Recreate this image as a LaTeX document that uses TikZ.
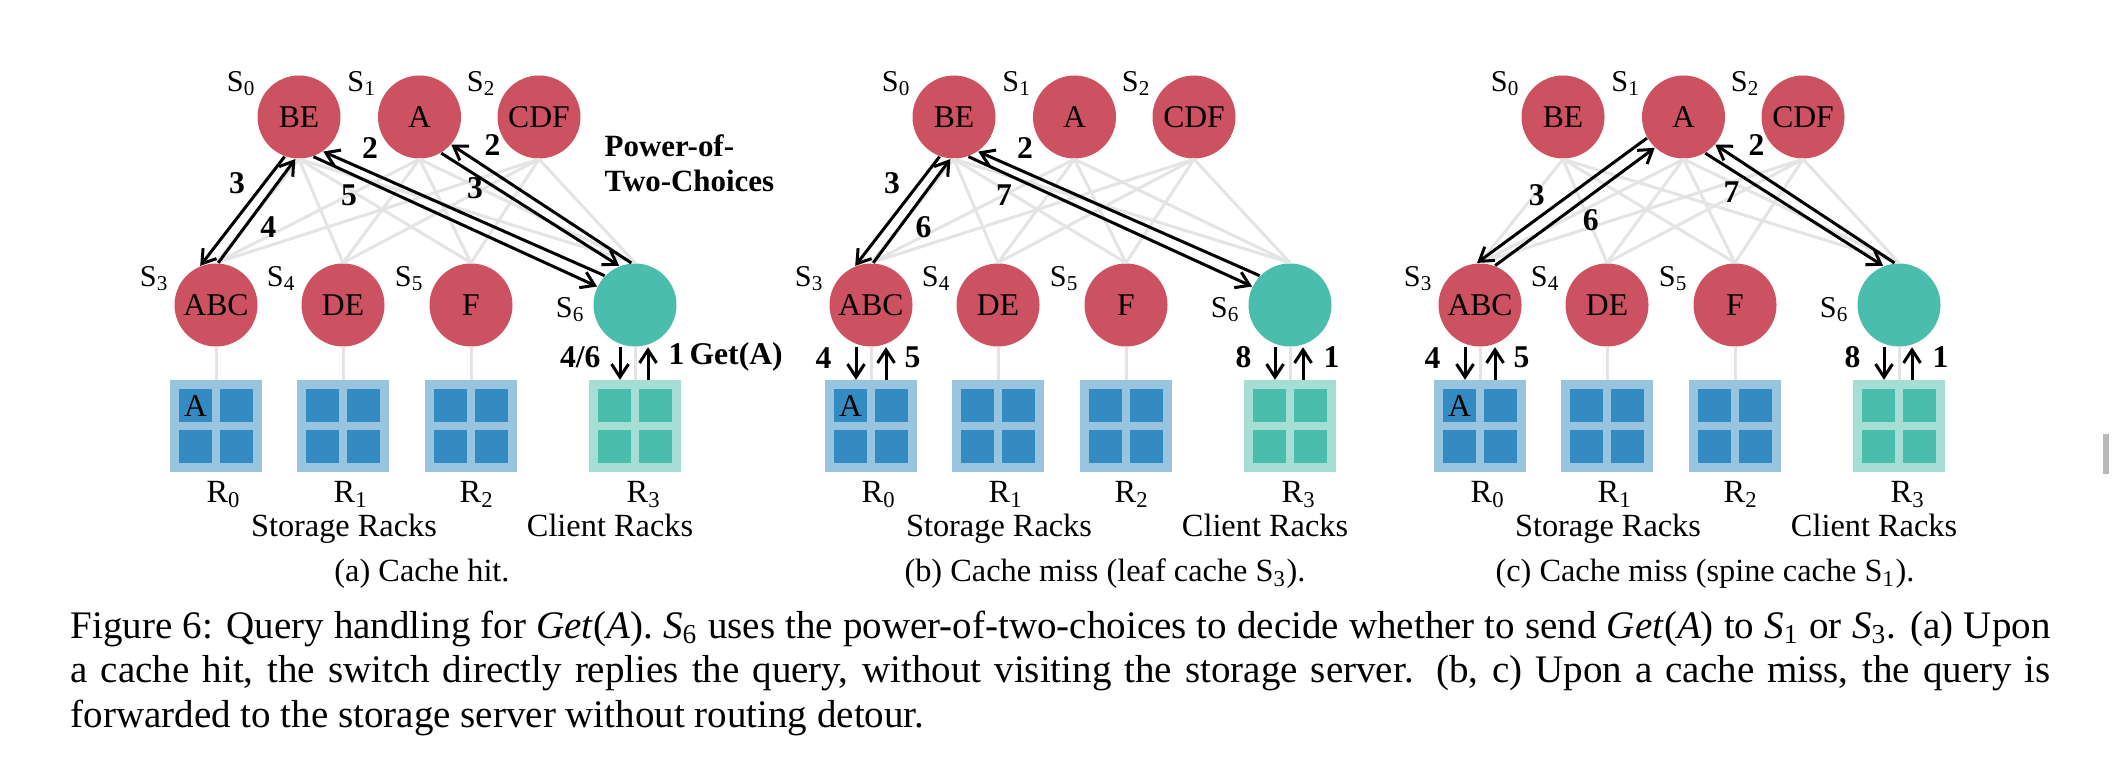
\documentclass[tikz,border=0pt]{standalone}
\usepackage{fontspec}
\setmainfont{Liberation Serif}
\usetikzlibrary{arrows.meta,positioning}

\definecolor{swred}{RGB}{205,82,97}
\definecolor{cteal}{RGB}{75,189,172}
\definecolor{rackblue}{RGB}{152,196,224}
\definecolor{cellblue}{RGB}{52,139,193}
\definecolor{rackteal}{RGB}{166,222,213}
\definecolor{meshgray}{RGB}{228,228,228}

\newcommand{\fsnode}{\fontsize{9}{10.5}\selectfont}
\newcommand{\fstag}{\fontsize{8.6}{10}\selectfont}
\newcommand{\fssub}{\fontsize{9.2}{11}\selectfont}
\newcommand{\fscap}{\fontsize{11.1}{12.8}\selectfont\hyphenpenalty10000\relax}

\begin{document}
\begin{tikzpicture}[
        x=0.1mm, y=-0.1mm,
        sw/.style={circle, fill=swred, minimum size=8.3mm, inner sep=0pt, font=\fsnode},
        client/.style={sw, fill=cteal},
        tag/.style={anchor=base east, inner sep=0pt, font=\fstag},
        toptag/.style={label={[tag, yshift=2.5mm]west:#1}},
        bottag/.style={label={[tag, xshift=-0.4mm, yshift=1.8mm]west:#1}},
        sidetag/.style={label={[tag, xshift=-0.7mm, yshift=-1.3mm]west:#1}},
        rack/.style={rectangle, fill=rackblue, minimum width=9.2mm, minimum height=9.2mm, inner sep=0pt},
        crack/.style={rack, fill=rackteal},
        mesh/.style={draw=meshgray, line width=0.3mm},
        flow/.style={-{Straight Barb[length=1.3mm, width=1.7mm]}, line width=0.3mm},
        num/.style={inner sep=0pt, font=\bfseries\fsnode},
        txt/.style={inner sep=0pt, anchor=base, font=\fssub}
    ]
    \path[use as bounding box, fill=white] (0,0) rectangle (2112,768);

    \foreach \p/\dx in {a/0, b/655, c/1264}{
    \begin{scope}[shift={(\dx,0)}]
        \node[sw, toptag=S\textsubscript{0}] (\p-s0) at (299,117) {BE};
        \node[sw, toptag=S\textsubscript{1}] (\p-s1) at (419.5,117) {A};
        \node[sw, toptag=S\textsubscript{2}] (\p-s2) at (539,117) {CDF};
        \node[sw, bottag=S\textsubscript{3}] (\p-s3) at (216,305) {ABC};
        \node[sw, bottag=S\textsubscript{4}] (\p-s4) at (343,305) {DE};
        \node[sw, bottag=S\textsubscript{5}] (\p-s5) at (471,305) {F};
        \node[client, sidetag=S\textsubscript{6}] (\p-s6) at (635,305) {};

        \node[rack] (\p-r0) at (216,426.5) {};
        \node[rack] (\p-r1) at (343,426.5) {};
        \node[rack] (\p-r2) at (471,426.5) {};
        \node[crack] (\p-r3) at (635,426.5) {};
        \foreach \x/\c in {216/cellblue, 343/cellblue, 471/cellblue, 635/cteal}
            \foreach \u in {-37,4}
                \foreach \v in {-37,4}
                    \fill[\c] (\x+\u,426.5+\v) rectangle ++(33,33);
        \node[inner sep=0pt, font=\fsnode] (\p-ka) at (195.5,406) {A};

        \foreach \t in {0,1,2}
            \foreach \b in {3,4,5,6}
                \draw[mesh] (\p-s\t.south) -- (\p-s\b.north);
        \draw[mesh] (\p-s3) -- (\p-r0);
        \draw[mesh] (\p-s4) -- (\p-r1);
        \draw[mesh] (\p-s5) -- (\p-r2);
        \draw[mesh] (\p-s6) -- (\p-r3);

        \node[txt] (\p-l0) at (224,503) {R\textsubscript{0}};
        \node[txt] (\p-l1) at (351,503) {R\textsubscript{1}};
        \node[txt] (\p-l2) at (477,503) {R\textsubscript{2}};
        \node[txt] (\p-l3) at (644,503) {R\textsubscript{3}};
        \node[txt] (\p-storage) at (344,537) {Storage Racks};
        \node[txt] (\p-client) at (610,537) {Client Racks};
    \end{scope}
    }

    % (a) cache hit
    \node[num, align=left, anchor=north west, font=\bfseries\fontsize{8.8}{10}\selectfont] (a-p2c) at (604,134) {Power-of-\\Two-Choices};
    \draw[flow] (a-s6.136) -- node[num, pos=0.865, shift={(8.9,-20.2)}] {2} (a-s0.305);
    \draw[flow] (a-s0.290) -- node[num, pos=0.155, shift={(-8.4,18.3)}] {5} (a-s6.154);
    \draw[flow] (a-s6.95) -- node[num, pos=0.839, shift={(12.2,-18.7)}] {2} (a-s1.319);
    \draw[flow] (a-s1.301) -- node[num, pos=0.224, shift={(-6.1,9.7)}] {3} (a-s6.112);
    \draw[flow] (a-s0.250) -- node[num, pos=0.361, shift={(-17,-12.9)}] {3} (a-s3.112);
    \draw[flow] (a-s3.87) -- node[num, pos=0.455, shift={(15.1,11.1)}] {4} (a-s0.265);
    \draw[flow] ([xshift=-1.5mm]a-s6.south) -- node[num, pos=0.32, left=1.8mm] {4/6} ([xshift=-1.5mm]a-r3.north);
    \draw[flow] ([xshift=1.3mm]a-r3.north) -- node[num, pos=0.7, right=1.9mm] {1\,Get(A)} ([xshift=1.3mm]a-s6.south);

    % (b) leaf cache miss
    \draw[flow] (b-s6.136) -- node[num, pos=0.865, shift={(8.9,-20.2)}] {2} (b-s0.305);
    \draw[flow] (b-s0.290) -- node[num, pos=0.155, shift={(-8.4,18.3)}] {7} (b-s6.154);
    \draw[flow] (b-s0.250) -- node[num, pos=0.361, shift={(-17,-12.9)}] {3} (b-s3.112);
    \draw[flow] (b-s3.87) -- node[num, pos=0.455, shift={(15.1,11.1)}] {6} (b-s0.265);
    \draw[flow] ([xshift=-1.5mm]b-s3.south) -- node[num, pos=0.32, left=2.3mm] {4} ([xshift=-1.5mm]b-r0.north);
    \draw[flow] ([xshift=1.5mm]b-r0.north) -- node[num, pos=0.7, right=1.7mm] {5} ([xshift=1.5mm]b-s3.south);
    \draw[flow] ([xshift=-1.5mm]b-s6.south) -- node[num, pos=0.32, left=2.2mm] {8} ([xshift=-1.5mm]b-r3.north);
    \draw[flow] ([xshift=1.3mm]b-r3.north) -- node[num, pos=0.7, right=1.9mm] {1} ([xshift=1.3mm]b-s6.south);

    % (c) spine cache miss
    \draw[flow] (c-s1.210) -- node[num, pos=0.58, shift={(-11.6,-15.7)}] {3} (c-s3.94);
    \draw[flow] (c-s3.69) -- node[num, pos=0.524, shift={(12.1,16.2)}] {6} (c-s1.227);
    \draw[flow] (c-s6.96) -- node[num, pos=0.839, shift={(12.2,-18.7)}] {2} (c-s1.319);
    \draw[flow] (c-s1.301) -- node[num, pos=0.204, shift={(-10.1,15.9)}] {7} (c-s6.112);
    \draw[flow] ([xshift=-1.5mm]c-s3.south) -- node[num, pos=0.32, left=2.3mm] {4} ([xshift=-1.5mm]c-r0.north);
    \draw[flow] ([xshift=1.5mm]c-r0.north) -- node[num, pos=0.7, right=1.7mm] {5} ([xshift=1.5mm]c-s3.south);
    \draw[flow] ([xshift=-1.5mm]c-s6.south) -- node[num, pos=0.32, left=2.2mm] {8} ([xshift=-1.5mm]c-r3.north);
    \draw[flow] ([xshift=1.3mm]c-r3.north) -- node[num, pos=0.7, right=1.9mm] {1} ([xshift=1.3mm]c-s6.south);

    \node[txt] (suba) at (422,582) {(a) Cache hit.};
    \node[txt] (subb) at (1105,582) {(b) Cache miss (leaf cache S\textsubscript{3}).};
    \node[txt] (subc) at (1705,582) {(c) Cache miss (spine cache S\textsubscript{1}).};

    \node[anchor=base west, text width=198mm, align=justify, inner sep=0pt, font=\fscap] (cap) at (70,638) {Figure 6: Query handling for \textit{Get}(\textit{A}). \textit{S}\textsubscript{6} uses the power-of-two-choices to decide whether to send \textit{Get}(\textit{A}) to \textit{S}\textsubscript{1} or \textit{S}\textsubscript{3}. (a) Upon\linebreak a cache hit, the switch directly replies the query, without visiting the storage server. (b, c) Upon a cache miss, the query is\linebreak forwarded to the storage server without routing detour.};

    \fill[gray!55] (2103,434) rectangle (2109,474);
\end{tikzpicture}
\end{document}
